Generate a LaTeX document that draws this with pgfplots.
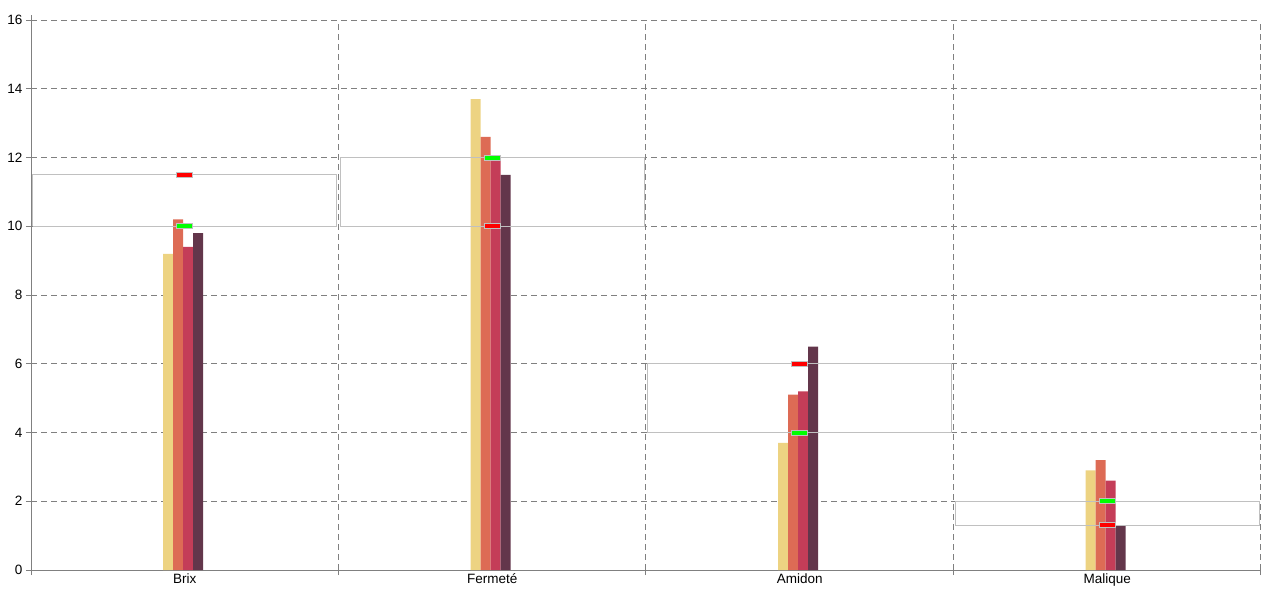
\documentclass[border=0pt]{standalone}
\usepackage{pgfplots}
\pgfplotsset{compat=1.18}
\usepackage{fontspec}
\setmainfont{Liberation Sans}
\definecolor{cY}{RGB}{237,211,130}
\definecolor{cO}{RGB}{221,107,85}
\definecolor{cR}{RGB}{196,61,88}
\definecolor{cD}{RGB}{99,54,75}
\definecolor{gline}{RGB}{128,128,128}
\definecolor{lgray}{RGB}{192,192,192}
\pgfdeclareplotmark{hbar}{\pgfpathrectangle{\pgfpoint{-8bp}{-2.5bp}}{\pgfpoint{16bp}{5bp}}\pgfusepathqfillstroke}
\begin{document}
\fontsize{13.5bp}{16bp}\selectfont
\begin{tikzpicture}
\useasboundingbox (0,0) rectangle (1280bp,600bp);
\begin{axis}[
  at={(31bp,30bp)}, anchor=south west,
  scale only axis, width=1230bp, height=555bp,
  xmin=-0.5, xmax=3.5, ymin=0, ymax=16.15,
  axis x line*=bottom, axis y line*=left,
  axis line style={draw=gline, line width=1bp},
  xtick={-0.5,0.5,1.5,2.5,3.5}, xticklabels={},
  extra x ticks={0,1,2,3},
  extra x tick labels={Brix,Fermeté,Amidon,Malique},
  extra x tick style={major tick length=0pt},
  ytick={0,2,...,16},
  tick align=outside, major tick length=5bp,
  tick style={draw=gline, line width=1bp},
  ymajorgrids, major grid style={draw=gline, line width=1bp, dash pattern=on 6bp off 4bp},
  tick label style={font=\fontsize{13.5bp}{16bp}\selectfont},
  /pgf/number format/assume math mode=true,
  yticklabel style={xshift=1bp},
  xticklabel style={yshift=1bp},
  clip=false,
]
% vertical category separators
\foreach \xx in {0.5,1.5,2.5,3.5}{
  \edef\temp{\noexpand\draw[gline, line width=1bp, dash pattern=on 6bp off 4bp] (axis cs:\xx,0) -- (axis cs:\xx,16);}
  \temp
}
% bars
\addplot[ybar, bar width=10bp, bar shift=-16.5bp, fill=cY, draw=none] coordinates {(0,9.2) (1,13.7) (2,3.7) (3,2.9)};
\addplot[ybar, bar width=10bp, bar shift=-6.5bp, fill=cO, draw=none] coordinates {(0,10.2) (1,12.6) (2,5.1) (3,3.2)};
\addplot[ybar, bar width=10bp, bar shift=3.5bp, fill=cR, draw=none] coordinates {(0,9.4) (1,12.0) (2,5.2) (3,2.6)};
\addplot[ybar, bar width=10bp, bar shift=13.5bp, fill=cD, draw=none] coordinates {(0,9.8) (1,11.5) (2,6.5) (3,1.3)};
% range bands
\addplot[lgray, line width=1bp] coordinates {(-0.495,10) (0.495,10) (0.495,11.5) (-0.495,11.5) (-0.495,10)};
\addplot[lgray, line width=1bp] coordinates {(0.505,10) (1.495,10) (1.495,12) (0.505,12) (0.505,10)};
\addplot[lgray, line width=1bp] coordinates {(1.505,4) (2.495,4) (2.495,6) (1.505,6) (1.505,4)};
\addplot[lgray, line width=1bp] coordinates {(2.505,1.3) (3.495,1.3) (3.495,2) (2.505,2) (2.505,1.3)};
% markers
\addplot[only marks, mark=hbar, mark options={fill={rgb,255:red,0;green,255;blue,0}, draw=lgray, line width=1bp}] coordinates {(0,10) (1,12) (2,4) (3,2)};
\addplot[only marks, mark=hbar, mark options={fill={rgb,255:red,255;green,0;blue,0}, draw=lgray, line width=1bp}] coordinates {(0,11.5) (1,10) (2,6) (3,1.3)};
\end{axis}
\end{tikzpicture}
\end{document}
